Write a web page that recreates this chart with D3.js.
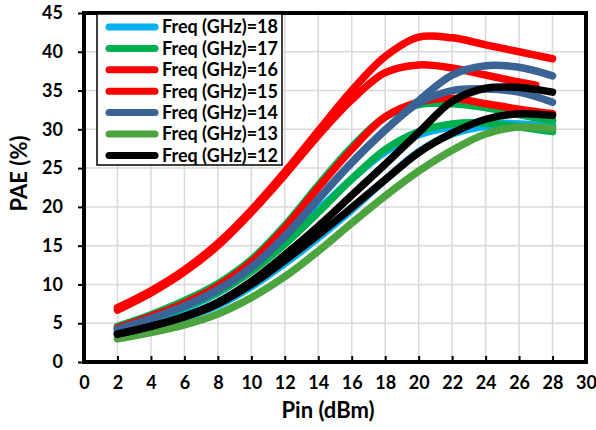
<!DOCTYPE html>
<html>
<head>
<meta charset="utf-8">
<script src="https://cdn.jsdelivr.net/npm/d3@7"></script>
<style>
  body { margin: 0; background: #fff; }
  text { font-family: Lato, "Open Sans", sans-serif; font-weight: bold; fill: #000; }
</style>
</head>
<body>
<svg id="chart" width="596" height="430"></svg>
<script>
// Pin (dBm) sample points
var pin = [2, 4, 6, 8, 10, 12, 14, 16, 18, 20, 22, 24, 26, 28];
var pin15 = [2, 4, 6, 8, 10, 12, 14, 16, 18, 20, 22, 24, 26, 27];

// PAE (%)
var f18a = [4.0, 5.3, 6.9, 8.9, 11.8, 15.5, 19.6, 23.6, 27.1, 29.3, 30.3, 30.8, 30.7, 30.4];
var f18b = [3.5, 4.5, 5.7, 7.3, 9.7, 12.7, 16.0, 19.6, 23.5, 27.1, 29.4, 30.4, 30.6, 30.4];
var f17a = [4.6, 6.1, 7.9, 10.1, 13.2, 17.6, 22.8, 27.7, 31.6, 33.2, 33.3, 32.8, 31.9, 31.1];
var f17b = [4.3, 5.6, 7.1, 9.0, 11.7, 15.2, 19.3, 23.6, 27.4, 29.7, 30.7, 30.8, 30.3, 29.7];
var f16a = [7.0, 9.2, 11.9, 15.3, 19.6, 24.5, 29.8, 35.0, 39.4, 41.9, 41.8, 40.9, 40.0, 39.1];
var f16b = [4.4, 5.9, 7.6, 9.8, 12.9, 17.3, 22.5, 27.4, 31.6, 33.5, 34.0, 33.3, 32.6, 32.0];
var f15  = [6.7, 8.9, 11.6, 15.0, 19.3, 24.1, 29.2, 33.8, 37.3, 38.3, 37.9, 37.0, 36.1, 35.7];
var f14a = [4.2, 5.6, 7.2, 9.3, 12.2, 16.2, 21.0, 25.7, 29.9, 33.7, 37.0, 38.2, 38.0, 36.9];
var f14b = [4.2, 5.6, 7.2, 9.3, 12.2, 16.2, 21.0, 25.7, 29.9, 33.4, 35.0, 35.2, 34.8, 33.5];
var f13  = [3.0, 3.8, 4.8, 6.2, 8.3, 11.0, 14.3, 17.9, 21.4, 24.6, 27.3, 29.4, 30.3, 30.1];
var f12a = [3.6, 4.6, 5.9, 7.7, 10.4, 13.8, 17.5, 21.5, 25.5, 29.6, 33.6, 35.3, 35.4, 34.8];
var f12b = [3.6, 4.6, 5.8, 7.5, 10.0, 13.1, 16.4, 19.9, 23.5, 27.0, 29.5, 31.3, 32.0, 31.8];

var legendLabels = ["Freq (GHz)=18", "Freq (GHz)=17", "Freq (GHz)=16", "Freq (GHz)=15",
                    "Freq (GHz)=14", "Freq (GHz)=13", "Freq (GHz)=12"];
var legendColors = ["#00b0f0", "#00b050", "#ff0000", "#ff0000", "#3b6496", "#4ca43f", "#000000"];

var xTicks = d3.range(0, 31, 2);
var yTicks = d3.range(0, 46, 5);

// series in drawing order (later ones on top)
var series = [
    { x: pin, y: f18b, color: legendColors[0] },
    { x: pin, y: f18a, color: legendColors[0] },
    { x: pin, y: f17b, color: legendColors[1] },
    { x: pin, y: f17a, color: legendColors[1] },
    { x: pin, y: f16b, color: legendColors[2] },
    { x: pin, y: f16a, color: legendColors[2] },
    { x: pin15, y: f15, color: legendColors[3] },
    { x: pin, y: f14b, color: legendColors[4] },
    { x: pin, y: f14a, color: legendColors[4] },
    { x: pin, y: f13, color: legendColors[5] },
    { x: pin, y: f12b, color: legendColors[6] },
    { x: pin, y: f12a, color: legendColors[6] }
];

var margin = { top: 13, right: 10, bottom: 68, left: 84 },
    width = 596 - margin.left - margin.right,
    height = 430 - margin.top - margin.bottom;

var svg = d3.select("#chart")
    .append("g")
    .attr("transform", "translate(" + margin.left + "," + margin.top + ")");

var xScale = d3.scaleLinear().domain([0, 30]).range([0, width]);
var yScale = d3.scaleLinear().domain([0, 45]).range([height, 0]);

// gridlines
svg.append("g")
    .selectAll("line")
    .data(xTicks.filter(function(d) { return d > 0 && d < 30; }))
    .enter().append("line")
    .attr("x1", function(d) { return xScale(d); })
    .attr("x2", function(d) { return xScale(d); })
    .attr("y1", 0)
    .attr("y2", height)
    .style("stroke", "#d9d9d9")
    .style("stroke-width", 1.5);

svg.append("g")
    .selectAll("line")
    .data(yTicks.filter(function(d) { return d > 0 && d < 45; }))
    .enter().append("line")
    .attr("x1", 0)
    .attr("x2", width)
    .attr("y1", function(d) { return yScale(d); })
    .attr("y2", function(d) { return yScale(d); })
    .style("stroke", "#d9d9d9")
    .style("stroke-width", 1.5);

// curves
var line = d3.line()
    .x(function(d) { return xScale(d[0]); })
    .y(function(d) { return yScale(d[1]); })
    .curve(d3.curveCatmullRom.alpha(0.5));

svg.append("g")
    .selectAll("path")
    .data(series)
    .enter().append("path")
    .attr("d", function(s) { return line(d3.zip(s.x, s.y)); })
    .style("fill", "none")
    .style("stroke", function(s) { return s.color; })
    .style("stroke-width", 7.5)
    .style("stroke-linecap", "round")
    .style("stroke-linejoin", "round");

// axes
var xAxis = svg.append("g")
    .attr("transform", "translate(0," + height + ")")
    .call(d3.axisBottom(xScale).tickValues(xTicks).tickSize(-6).tickPadding(14));
xAxis.select(".domain").remove();
xAxis.selectAll("line").style("stroke", "#000").style("stroke-width", 2);
xAxis.selectAll("text").style("font-size", "18px").attr("dy", "0.71em");

var yAxis = svg.append("g")
    .call(d3.axisLeft(yScale).tickValues(yTicks).tickSize(6).tickPadding(15));
yAxis.select(".domain").remove();
yAxis.selectAll("line").style("stroke", "#000").style("stroke-width", 2);
yAxis.selectAll("text").style("font-size", "18px");

// plot frame
svg.append("rect")
    .attr("x", 0)
    .attr("y", 0)
    .attr("width", width)
    .attr("height", height)
    .style("fill", "none")
    .style("stroke", "#000")
    .style("stroke-width", 4);

// axis titles
svg.append("text")
    .attr("x", width / 2 - 7)
    .attr("y", height + 56)
    .style("text-anchor", "middle")
    .style("font-size", "22px")
    .text("Pin (dBm)");

svg.append("text")
    .attr("transform", "rotate(-90)")
    .attr("x", -(height / 2) + 14)
    .attr("y", -margin.left + 27)
    .style("text-anchor", "middle")
    .style("font-size", "22px")
    .text("PAE (%)");

// legend
var legend = svg.append("g").attr("transform", "translate(13,1)");
legend.append("rect")
    .attr("width", 185)
    .attr("height", 151)
    .style("fill", "#fff")
    .style("stroke", "#000")
    .style("stroke-width", 1.5);

var items = legend.selectAll(".legend")
    .data(legendLabels)
    .enter().append("g")
    .attr("class", "legend")
    .attr("transform", function(d, i) { return "translate(0," + (13 + i * 21.4) + ")"; });

items.append("line")
    .attr("x1", 12)
    .attr("x2", 58)
    .style("stroke", function(d, i) { return legendColors[i]; })
    .style("stroke-width", 7)
    .style("stroke-linecap", "round");

items.append("text")
    .attr("x", 65)
    .attr("dy", "0.36em")
    .style("font-size", "18px")
    .text(function(d) { return d; });
</script>
</body>
</html>
